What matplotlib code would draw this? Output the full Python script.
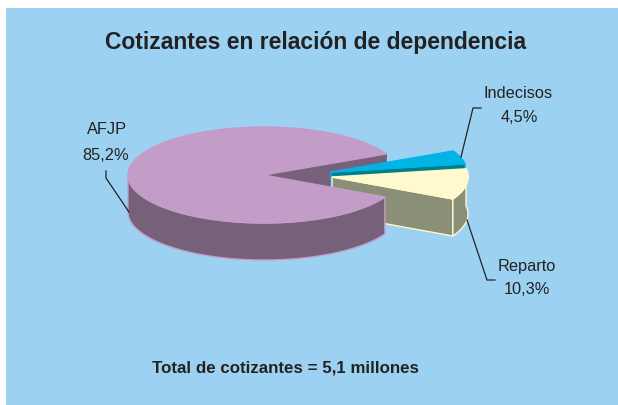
import numpy as np
import matplotlib
matplotlib.use('Agg')
import matplotlib.pyplot as plt
from matplotlib.patches import Polygon

nombres = ['AFJP', 'Indecisos', 'Reparto']
valores = [85.2, 4.5, 10.3]
etiquetas = ['85,2%', '4,5%', '10,3%']
titulo = 'Cotizantes en relación de dependencia'
pie = 'Total de cotizantes = 5,1 millones'

plt.rcParams['font.family'] = ['Liberation Sans', 'DejaVu Sans']

rx, ry, prof = 136, 48, 37
inicio = 26

def borde(cx, cy, a, b, dy=0):
    t = np.radians(np.linspace(a, b, 90))
    return np.column_stack([cx + rx*np.cos(t), cy - ry*np.sin(t) + dy])

def cara(cx, cy, a, b, col, ec):
    ax.add_patch(Polygon(np.vstack([[cx, cy], borde(cx, cy, a, b)]), fc=col, ec=ec, lw=1))

def pared(cx, cy, a, b, col, ec):
    arr = borde(cx, cy, a, b)
    ab = borde(cx, cy, a, b, prof)
    ax.add_patch(Polygon(np.vstack([arr, ab[::-1]]), fc=col, ec=ec, lw=1))

def corte(cx, cy, a, col, ec):
    p = borde(cx, cy, a, a+0.01)[0]
    ax.add_patch(Polygon([[cx, cy], p, p+[0, prof], [cx, cy+prof]], fc=col, ec=ec, lw=1))

# angulos de cada porcion
g = [v*3.6 for v in valores]
a_fin = inicio + g[0]
b_fin = inicio - g[1]
r_fin = b_fin - g[2]

fig = plt.figure(figsize=(6.18, 4.05), dpi=100, facecolor='white')
ax = fig.add_axes([0, 0, 1, 1])
ax.set_xlim(0, 618)
ax.set_ylim(405, 0)
ax.axis('off')
ax.add_patch(plt.Rectangle((6, 8), 612, 397, fc='#9dd1f1', ec='none'))

cx, cy = 264, 175
# AFJP, cara de corte trasera
corte(cx, cy, inicio, '#76607a', '#76607a')

# Indecisos
bx, by = 331, 172
corte(bx, by, b_fin, '#007e8c', '#00b4e6')
cara(bx, by, b_fin, inicio, '#00b4e6', '#00b4e6')

# Reparto
rx0, ry0 = 332, 177
corte(rx0, ry0, r_fin, '#8b8f78', '#fffacd')
pared(rx0, ry0, r_fin, b_fin, '#8b8f78', '#fffacd')
cara(rx0, ry0, r_fin, b_fin, '#fffacd', '#fffacd')

# AFJP, frente y tapa
pared(cx, cy, 180, 360+r_fin, '#76607a', '#c39dc8')
cara(cx, cy, inicio, a_fin, '#c39dc8', '#c39dc8')

# lineas guia
ax.plot([106, 106, 129], [171, 178, 212], color='#222222', lw=0.9)
ax.plot([481, 473, 461], [108, 108, 157], color='#222222', lw=0.9)
ax.plot([467, 487, 495], [220, 280, 280], color='#222222', lw=0.9)

ax.text(316, 42, titulo, fontsize=16.5, fontweight='bold', color='#222222', ha='center', va='center')
ax.text(286, 368, pie, fontsize=12.2, fontweight='bold', color='#222222', ha='center', va='center')
txt = dict(fontsize=11.8, color='#222222', ha='center', va='center')
ax.text(107, 130, nombres[0], **txt)
ax.text(106, 155, etiquetas[0], **txt)
ax.text(518, 94, nombres[1], **txt)
ax.text(519, 118, etiquetas[1], **txt)
ax.text(527, 266, nombres[2], **txt)
ax.text(527, 290, etiquetas[2], **txt)

fig.savefig('out.png', dpi=100)
